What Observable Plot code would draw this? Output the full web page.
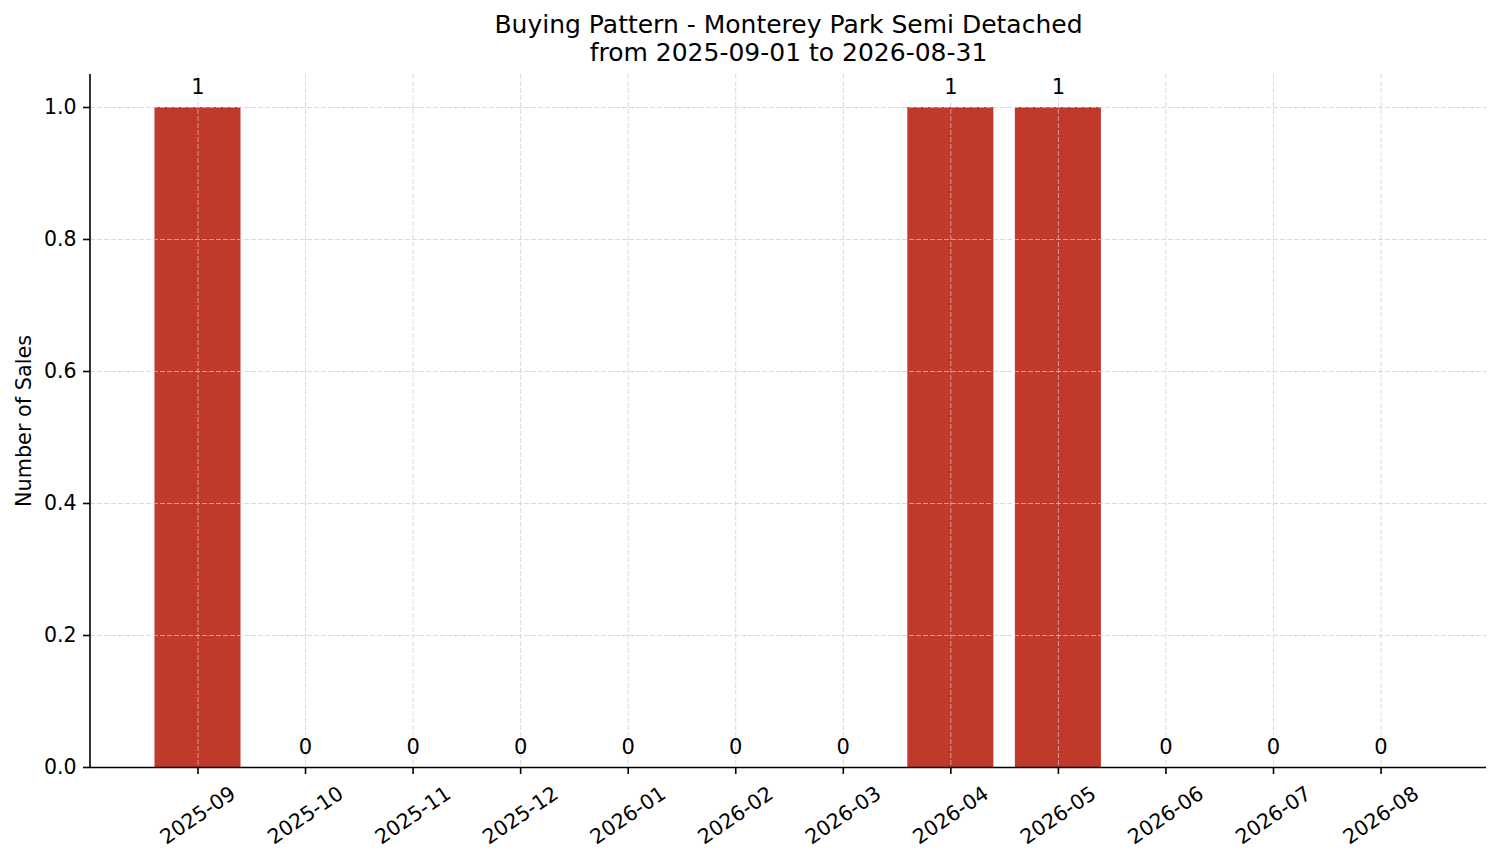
<!DOCTYPE html>
<html>
<head>
<meta charset="utf-8">
<script src="https://cdn.jsdelivr.net/npm/d3@7"></script>
<script src="https://cdn.jsdelivr.net/npm/@observablehq/plot@0.6"></script>
<style>
  html, body { margin: 0; padding: 0; background: #fff; }
  #wrap { position: relative; width: 1501px; height: 863px; font-family: "DejaVu Sans", sans-serif; }
  #title { position: absolute; left: 76px; top: 11px; width: 1425px; text-align: center;
           font-size: 25px; line-height: 28px; color: #000; }
  #chart { position: absolute; left: 0; top: 73px; }
</style>
</head>
<body>
<div id="wrap">
  <div id="title">Buying Pattern - Monterey Park Semi Detached<br>from 2025-09-01 to 2026-08-31</div>
  <div id="chart"></div>
</div>
<script>
const months = ["2025-09","2025-10","2025-11","2025-12","2026-01","2026-02","2026-03","2026-04","2026-05","2026-06","2026-07","2026-08"];
const sales = [1, 0, 0, 0, 0, 0, 0, 1, 1, 0, 0, 0];
const yTicks = [0, 0.2, 0.4, 0.6, 0.8, 1.0];
const yLabel = "Number of Sales";

const data = months.map((m, i) => ({month: m, sales: sales[i]}));

// left spine drawn along the frame's left edge
function leftSpine(index, scales, values, dimensions) {
  const {marginLeft, marginTop, height, marginBottom} = dimensions;
  const g = d3.create("svg:g");
  g.append("line")
    .attr("x1", marginLeft).attr("x2", marginLeft)
    .attr("y1", marginTop).attr("y2", height - marginBottom + 0.8)
    .attr("stroke", "#000").attr("stroke-width", 1.6);
  return g.node();
}

const chart = Plot.plot({
  width: 1501,
  height: 790,
  marginTop: 1,
  marginBottom: 96,
  marginLeft: 90,
  marginRight: 15,
  style: {fontFamily: "DejaVu Sans, sans-serif", fontSize: "20px", color: "#000", background: "#fff"},
  x: {type: "band", domain: months, paddingInner: 0.2, paddingOuter: 0.59, align: 0.508, round: false},
  y: {domain: [0, 1.05]},
  marks: [
    Plot.barY(data, {x: "month", y: "sales", fill: "#c0392b"}),
    Plot.gridX(months, {stroke: "#cccccc", strokeOpacity: 0.7, strokeWidth: 1, strokeDasharray: "5,2"}),
    Plot.gridY(yTicks, {stroke: "#cccccc", strokeOpacity: 0.7, strokeWidth: 1, strokeDasharray: "5,2"}),
    Plot.axisY(yTicks, {tickFormat: d3.format(".1f"), tickSize: 7, tickPadding: 7, strokeWidth: 1.6, fontSize: 20.5, label: null, color: "#000"}),
    Plot.axisX(months, {tickSize: 7, tickFormat: null, strokeWidth: 1.6, label: null, text: null}),
    Plot.text(months, {x: d => d, frameAnchor: "bottom", dy: 48, rotate: -34, textAnchor: "middle", lineAnchor: "middle", fontSize: 20.5, fill: "#000"}),
    Plot.text(data, {x: "month", y: "sales", text: d => String(d.sales), textAnchor: "middle", lineAnchor: "bottom", dy: -14, fontSize: 21, fill: "#000"}),
    Plot.text([yLabel], {frameAnchor: "left", dx: -66, rotate: -90, textAnchor: "middle", lineAnchor: "middle", fontSize: 20.8, fill: "#000"}),
    Plot.ruleY([0], {stroke: "#000", strokeWidth: 1.6}),
    leftSpine
  ]
});
document.getElementById("chart").appendChild(chart);
</script>
</body>
</html>
